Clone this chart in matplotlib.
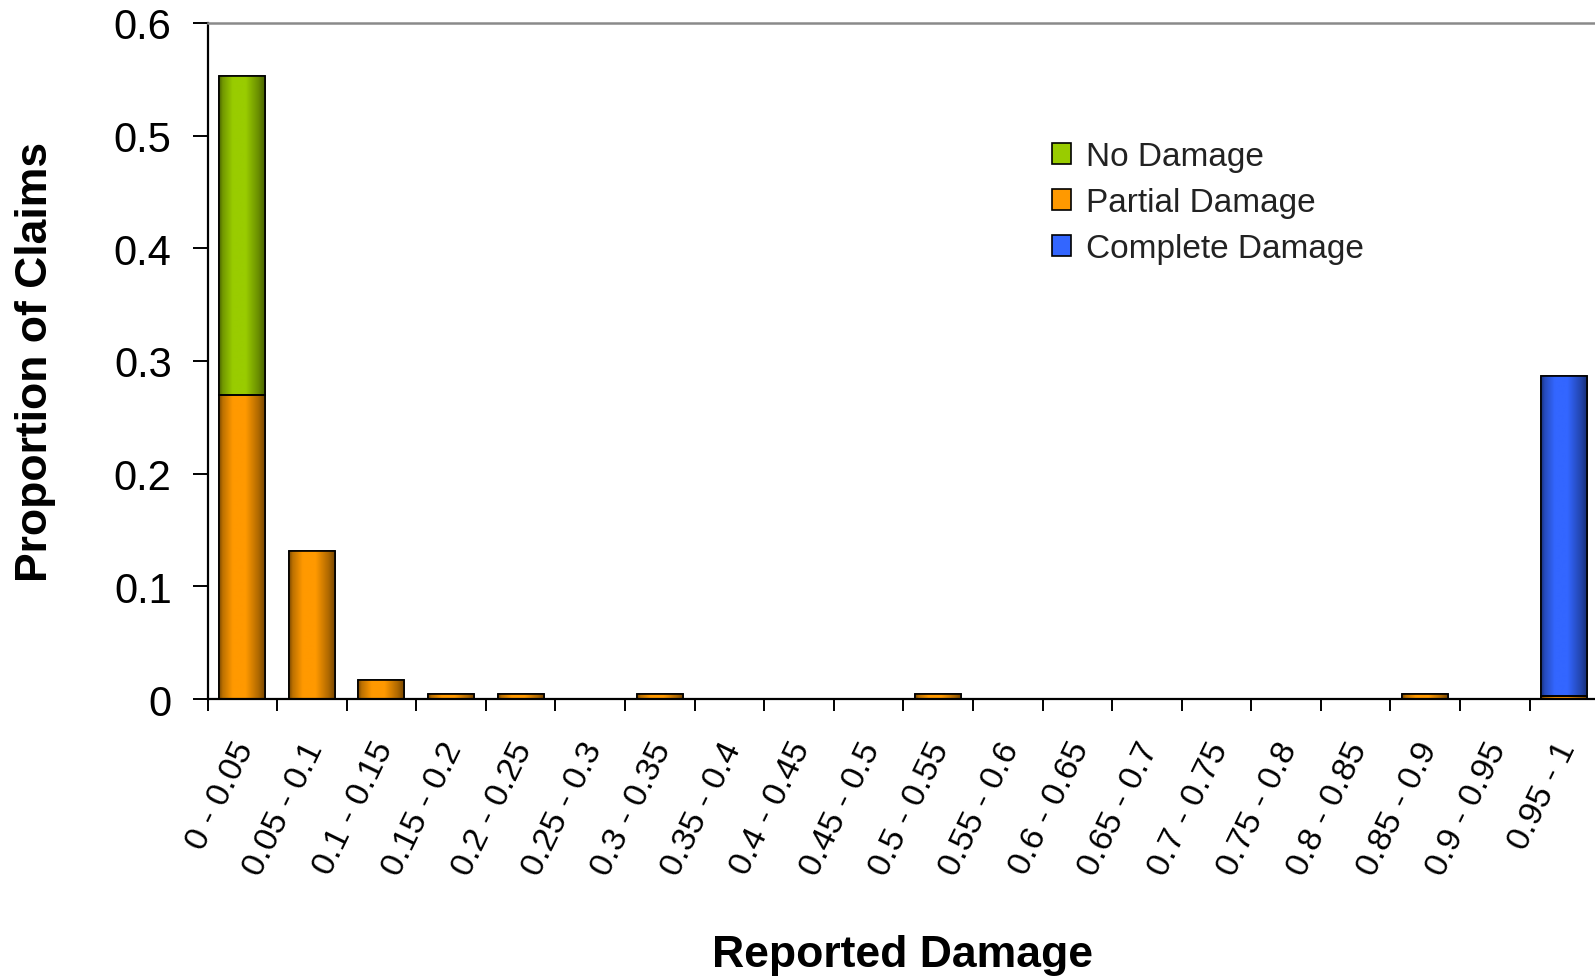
import numpy as np
import matplotlib
matplotlib.use("Agg")
import matplotlib.pyplot as plt
import matplotlib.transforms as mtransforms
from matplotlib.colors import LinearSegmentedColormap
from matplotlib.patches import Patch, Rectangle

# Damage bins and the share of claims in each
categories = ["0 - 0.05", "0.05 - 0.1", "0.1 - 0.15", "0.15 - 0.2", "0.2 - 0.25",
              "0.25 - 0.3", "0.3 - 0.35", "0.35 - 0.4", "0.4 - 0.45", "0.45 - 0.5",
              "0.5 - 0.55", "0.55 - 0.6", "0.6 - 0.65", "0.65 - 0.7", "0.7 - 0.75",
              "0.75 - 0.8", "0.8 - 0.85", "0.85 - 0.9", "0.9 - 0.95", "0.95 - 1"]

partial_damage = [0.270, 0.1315, 0.017, 0.004, 0.004, 0.0, 0.004, 0.0, 0.0, 0.0,
                  0.004, 0.0, 0.0, 0.0, 0.0, 0.0, 0.0, 0.004, 0.0, 0.003]
no_damage = [0.283] + [0.0] * 19
complete_damage = [0.0] * 19 + [0.284]

series_names = ["No Damage", "Partial Damage", "Complete Damage"]
y_ticks = [0, 0.1, 0.2, 0.3, 0.4, 0.5, 0.6]
y_tick_labels = ["0", "0.1", "0.2", "0.3", "0.4", "0.5", "0.6"]

# colours: (bright centre, dark edge)
shades = {
    "No Damage": ("#99cc00", "#4a6400"),
    "Partial Damage": ("#ff9900", "#7a4800"),
    "Complete Damage": ("#3366ff", "#18307a"),
}

plt.rcParams["font.family"] = ["Liberation Sans", "DejaVu Sans"]

fig = plt.figure(figsize=(15.95, 9.78), dpi=100)
ax = fig.add_axes([207.5 / 1595, 278 / 978, 1391.7 / 1595, 676 / 978])

x = np.arange(len(categories))
bar_width = 0.66

# horizontal shading profile across each bar
profile_pos = [0.0, 0.08, 0.3, 0.58, 0.86, 1.0]
profile_mix = [0.0, 0.5, 1.0, 1.0, 0.4, 0.0]
grad = np.interp(np.linspace(0, 1, 200), profile_pos, profile_mix)[np.newaxis, :]


def shaded_bars(values, bottom, name):
    values = np.asarray(values, dtype=float)
    bottom = np.asarray(bottom, dtype=float)
    keep = values > 0
    bright, dark = shades[name]
    cmap = LinearSegmentedColormap.from_list(name, [dark, bright])
    bars = ax.bar(x[keep], values[keep], bar_width, bottom=bottom[keep],
                  color=bright, edgecolor="black", linewidth=1.2, zorder=2)
    for patch in bars:
        x0, y0 = patch.get_x(), patch.get_y()
        w, h = patch.get_width(), patch.get_height()
        im = ax.imshow(grad, cmap=cmap, vmin=0, vmax=1, aspect="auto",
                       extent=(x0, x0 + w, y0, y0 + h), zorder=2.1,
                       interpolation="bilinear")
        im.set_clip_path(patch)
        ax.add_patch(Rectangle((x0, y0), w, h, fill=False, edgecolor="black",
                               linewidth=1.2, zorder=2.2))
    return bars


zeros = np.zeros(len(categories))
partial = np.array(partial_damage)
shaded_bars(partial_damage, zeros, "Partial Damage")
shaded_bars(no_damage, partial, "No Damage")
shaded_bars(complete_damage, partial, "Complete Damage")

ax.set_xlim(-0.5, len(categories) - 0.5)
ax.set_ylim(0, 0.6)

# y axis
ax.set_yticks(y_ticks)
ax.set_yticklabels(y_tick_labels, fontsize=30)
ax.tick_params(axis="y", length=10.8, width=1.4, pad=15, color="black")

# x axis: labels at bin centres, tick marks at bin boundaries
ax.set_xticks(x)
ax.set_xticklabels(categories, fontsize=24.5, rotation=64, ha="right", va="top",
                   rotation_mode="anchor")
ax.tick_params(axis="x", which="major", length=0, pad=27)
shift = mtransforms.ScaledTranslation(-10 / 100, 0, fig.dpi_scale_trans)
for lab in ax.get_xticklabels():
    lab.set_transform(lab.get_transform() + shift)
ax.set_xticks(np.arange(len(categories) + 1) - 0.5, minor=True)
ax.tick_params(axis="x", which="minor", length=8.6, width=1.4, color="black")

for side in ("left", "bottom"):
    ax.spines[side].set_linewidth(1.6)
    ax.spines[side].set_color("black")
ax.spines["top"].set_color("#8a8a8a")
ax.spines["top"].set_linewidth(1.8)
ax.spines["right"].set_visible(False)

ax.set_ylabel("Proportion of Claims", fontsize=32, fontweight="bold",
              ha="center", va="center")
ax.yaxis.set_label_coords((35.6 - 207.5) / 1391.7, 0.5)
ax.set_xlabel("Reported Damage", fontsize=32, fontweight="bold",
              ha="center", va="center")
ax.xaxis.set_label_coords((902 - 207.5) / 1391.7, (700 - 956) / 676)

handles = [Patch(facecolor=shades[n][0], edgecolor="black", linewidth=1.2)
           for n in series_names]
leg = fig.legend(handles, series_names, loc="upper left",
                 bbox_to_anchor=(1052 / 1595, 1 - 142 / 978),
                 frameon=False, fontsize=24, borderpad=0, borderaxespad=0,
                 handlelength=0.58, handleheight=0.58, handletextpad=0.45,
                 labelspacing=0.45)
for t in leg.get_texts():
    t.set_color("#222222")

fig.savefig("out.png", dpi=100)
